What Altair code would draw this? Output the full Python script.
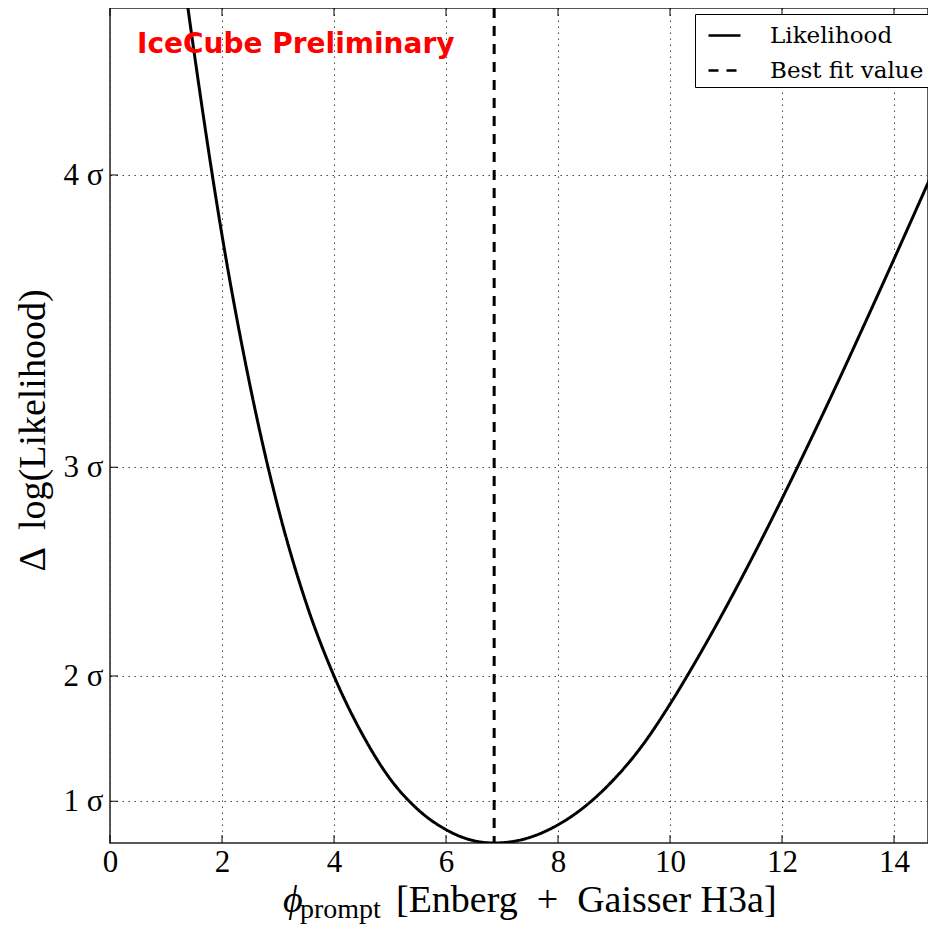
import altair as alt
import pandas as pd

# Likelihood profile (Δ log-likelihood vs prompt normalisation)
phi_values = [1.375, 1.5, 2.0, 2.5, 3.0, 3.5, 4.0, 4.5, 5.0, 5.5, 6.0, 6.5, 6.86,
              7.0, 7.5, 8.0, 8.5, 9.0, 9.5, 10.0, 10.5, 11.0, 11.5, 12.0, 12.5,
              13.0, 13.5, 14.0, 14.5, 14.75]
dllh_values = [10.08, 9.48, 7.28, 5.48, 4.02, 2.88, 2.0, 1.31, 0.77, 0.40, 0.16, 0.027, 0.0,
               0.003, 0.068, 0.218, 0.448, 0.763, 1.163, 1.663, 2.223, 2.823, 3.458, 4.123,
               4.813, 5.523, 6.253, 6.993, 7.743, 8.12]
best_fit = [6.86]

series_names = ["Likelihood", "Best fit value"]

x_ticks = [0, 2, 4, 6, 8, 10, 12, 14]
sigma_positions = [0.5, 2.0, 4.5, 8.0]
sigma_labels = ["1 σ", "2 σ", "3 σ", "4 σ"]

W, H = 818, 835
SERIF = "Liberation Serif"

curve_df = pd.DataFrame({"phi": phi_values, "dllh": dllh_values, "series": series_names[0]})
best_df = pd.DataFrame({"phi": best_fit, "series": series_names[1]})
xt_df = pd.DataFrame({"phi": x_ticks})
yt_df = pd.DataFrame({"dllh": sigma_positions})

label_expr = " : ".join(
    f"datum.value == {p} ? '{l}'" for p, l in zip(sigma_positions, sigma_labels)
) + " : ''"

xscale = alt.Scale(domain=[0, W / 56.0], nice=False, zero=False)
yscale = alt.Scale(domain=[0, 10], nice=False, zero=False)

dash_scale = alt.Scale(domain=series_names, range=[[1, 0], [10, 8]])
legend = alt.Legend(
    title=None, orient="none", legendX=585, legendY=6,
    symbolType="stroke", symbolSize=1024, symbolStrokeWidth=2.5,
    symbolStrokeColor="black", symbolFillColor="transparent",
    labelFont="DejaVu Serif", labelFontSize=23, labelColor="black",
    labelOffset=28, labelLimit=0, padding=4, rowPadding=5,
    strokeColor="black", fillColor="white", symbolOffset=8,
)

x_enc = alt.X("phi:Q", scale=xscale,
              axis=alt.Axis(values=x_ticks, format="d", title=None, labelFont=SERIF,
                            labelFontSize=31, labelPadding=4, labelFlush=False,
                            grid=True))
y_enc = alt.Y("dllh:Q", scale=yscale,
              axis=alt.Axis(values=sigma_positions, labelExpr=label_expr,
                            title="Δ\u00a0\u2009log(Likelihood)", titleFont=SERIF,
                            titleFontSize=38, titleFontWeight="normal",
                            titleColor="black", titleAngle=270,
                            titleX=-77, titleY=422, titleAlign="center",
                            titleBaseline="middle",
                            labelFont=SERIF, labelFontSize=31, labelPadding=7,
                            grid=True))

curve = alt.Chart(curve_df).mark_line(
    color="black", strokeWidth=3, interpolate="monotone", clip=True
).encode(
    x=x_enc, y=y_enc,
    strokeDash=alt.StrokeDash("series:N", scale=dash_scale, legend=legend),
)

best = alt.Chart(best_df).mark_rule(color="black", strokeWidth=3).encode(
    x=alt.X("phi:Q", scale=xscale),
    strokeDash=alt.StrokeDash("series:N", scale=dash_scale, legend=legend),
)

xt_bottom = alt.Chart(xt_df).mark_rule(color="black", strokeWidth=1).encode(
    x=alt.X("phi:Q", scale=xscale), y=alt.value(H), y2=alt.value(H - 8))
xt_top = alt.Chart(xt_df).mark_rule(color="black", strokeWidth=1).encode(
    x=alt.X("phi:Q", scale=xscale), y=alt.value(0), y2=alt.value(8))
yt_left = alt.Chart(yt_df).mark_rule(color="black", strokeWidth=1).encode(
    y=alt.Y("dllh:Q", scale=yscale), x=alt.value(0), x2=alt.value(8))

def label(text, x, y, **kw):
    return alt.Chart(pd.DataFrame({"t": [text]})).mark_text(**kw).encode(
        x=alt.value(x), y=alt.value(y), text="t:N")

ice = label("IceCube Preliminary", 27, 45, font="DejaVu Sans", fontSize=28,
            fontWeight="bold", color="red", align="left", baseline="alphabetic")
phi_t = label("ϕ", 173, 904, font=SERIF, fontSize=38, fontStyle="italic",
              color="black", align="left", baseline="alphabetic")
sub_t = label("prompt", 190, 910, font=SERIF, fontSize=28,
              color="black", align="left", baseline="alphabetic")
main_t = label("[Enberg\u2002+\u2002Gaisser H3a]", 286, 904, font=SERIF,
               fontSize=38, color="black", align="left", baseline="alphabetic")

chart = alt.layer(
    curve, best, xt_bottom, xt_top, yt_left, ice, phi_t, sub_t, main_t
).properties(
    width=W, height=H,
    padding={"left": 102, "top": 0, "right": 0, "bottom": 81},
    autosize=alt.AutoSizeParams(type="none"),
).configure_view(
    stroke="#222", strokeWidth=1.5
).configure_axis(
    domain=False, ticks=False, gridColor="#444", gridDash=[1.5, 4.5],
    gridWidth=1, labelColor="black",
)

chart.save("out.html", embed_options={"renderer": "svg", "actions": False})
